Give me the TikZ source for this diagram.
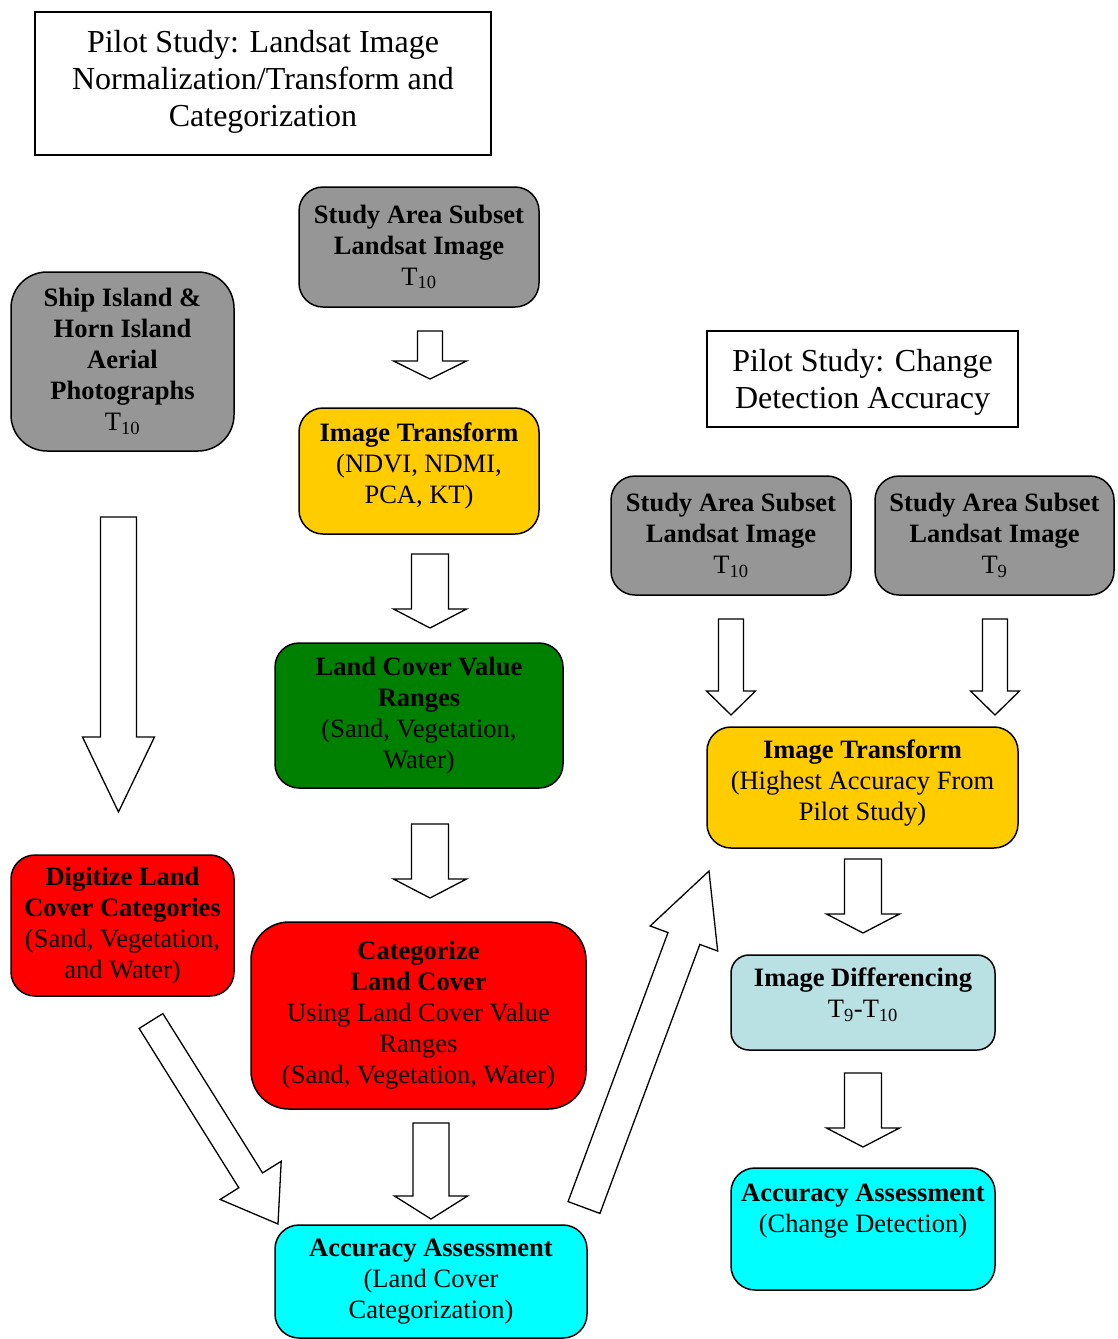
\documentclass[tikz,border=0pt]{standalone}
\usepackage{fontspec}
\setmainfont{Liberation Serif}
\usetikzlibrary{calc}
\definecolor{boxgray}{RGB}{150,150,150}
\definecolor{boxyellow}{RGB}{255,204,0}
\definecolor{boxgreen}{RGB}{0,128,0}
\definecolor{boxred}{RGB}{255,0,0}
\definecolor{boxcyan}{RGB}{0,255,255}
\definecolor{boxblue}{RGB}{185,224,227}
\newcommand{\boxfont}{\fontsize{26.5}{31}\selectfont}
\newcommand{\titlefont}{\fontsize{32}{37}\selectfont}

\begin{document}
\begin{tikzpicture}[x=1pt,y=-1pt,
	stepbox/.style={draw,line width=1.5pt,rounded corners=24pt,align=center,font=\boxfont,inner sep=2pt},
	titlebox/.style={draw,line width=1.3pt,align=center,font=\titlefont,inner sep=2pt},
	fatarrow/.style n args={3}{draw,fill=white,line width=1.3pt,line join=miter,to path={
		($(\tikztotarget)!#3pt!(\tikztostart)$) coordinate (fa-h)
		($(\tikztostart)!#1pt!90:(\tikztotarget)$) -- ($(fa-h)!#1pt!-90:(\tikztostart)$)
		-- ($(fa-h)!#2pt!-90:(\tikztostart)$) -- (\tikztotarget) -- ($(fa-h)!#2pt!90:(\tikztostart)$)
		-- ($(fa-h)!#1pt!90:(\tikztostart)$) -- ($(\tikztostart)!#1pt!-90:(\tikztotarget)$) -- cycle}}]
		\useasboundingbox (0,0) rectangle (1118,1339);
		
		\node[titlebox,text depth=11pt,minimum width=456pt,minimum height=143pt](pilot1)at(263,83.5){Pilot Study: Landsat Image\\Normalization/Transform and\\Categorization};
		\node[titlebox,text depth=0pt,minimum width=311pt,minimum height=96pt](pilot2)at(862.5,379){Pilot Study: Change\\Detection Accuracy};
		
		\node[stepbox,fill=boxgray,minimum width=240pt,minimum height=120pt](sa1)at(419,247){\textbf{Study Area Subset}\\\textbf{Landsat Image}\\T\textsubscript{10}};
		\node[stepbox,fill=boxgray,rounded corners=36pt,minimum width=223pt,minimum height=179pt](ship)at(122.5,361.5){\textbf{Ship Island \&}\\\textbf{Horn Island}\\\textbf{Aerial}\\\textbf{Photographs}\\T\textsubscript{10}};
		\node[stepbox,fill=boxyellow,text depth=16pt,minimum width=240pt,minimum height=126pt](it1)at(419,471){\textbf{Image Transform}\\(NDVI, NDMI,\\PCA, KT)};
		\node[stepbox,fill=boxgreen,minimum width=288pt,minimum height=145pt](lcv)at(419,715.5){\textbf{Land Cover Value}\\\textbf{Ranges}\\(Sand, Vegetation,\\Water)};
		\node[stepbox,fill=boxred,minimum width=223pt,minimum height=141pt](dig)at(122.5,925.5){\textbf{Digitize Land}\\\textbf{Cover Categories}\\(Sand, Vegetation,\\and Water)};
		\node[stepbox,fill=boxred,rounded corners=38pt,minimum width=335pt,minimum height=187pt](cat)at(418.5,1015.5){\textbf{Categorize}\\\textbf{Land Cover}\\Using Land Cover Value\\Ranges\\(Sand, Vegetation, Water)};
		\node[stepbox,fill=boxcyan,minimum width=312pt,minimum height=113pt](acc1)at(431,1281.5){\textbf{Accuracy Assessment}\\(Land Cover\\Categorization)};
		
		\node[stepbox,fill=boxgray,minimum width=240pt,minimum height=119pt](sa2)at(731,535.5){\textbf{Study Area Subset}\\\textbf{Landsat Image}\\T\textsubscript{10}};
		\node[stepbox,fill=boxgray,minimum width=239pt,minimum height=119pt](sa3)at(994.5,535.5){\textbf{Study Area Subset}\\\textbf{Landsat Image}\\T\textsubscript{9}};
		\node[stepbox,fill=boxyellow,text depth=14pt,minimum width=311pt,minimum height=121pt](it2)at(862.5,787.5){\textbf{Image Transform}\\(Highest Accuracy From\\Pilot Study)};
		\node[stepbox,fill=boxblue,rounded corners=18pt,text depth=19pt,minimum width=264pt,minimum height=95pt](diff)at(863,1002.5){\textbf{Image Differencing}\\T\textsubscript{9}-T\textsubscript{10}};
		\node[stepbox,fill=boxcyan,text depth=42pt,minimum width=264pt,minimum height=122pt](acc2)at(863,1229){\textbf{Accuracy Assessment}\\(Change Detection)};
		
		\coordinate (a0s)at(118.5,517);
		\coordinate (a0e)at(118.5,812);
		\coordinate (a1s)at(430,331);
		\coordinate (a1e)at(430,379);
		\coordinate (a2s)at(430,554);
		\coordinate (a2e)at(430,628);
		\coordinate (a3s)at(430,824);
		\coordinate (a3e)at(430,898);
		\coordinate (a4s)at(431,1123);
		\coordinate (a4e)at(431,1219);
		\coordinate (d1s)at(151,1021);
		\coordinate (d1e)at(278,1224);
		\coordinate (d2s)at(584,1207.5);
		\coordinate (d2e)at(709,871);
		\coordinate (b1s)at(731,619);
		\coordinate (b1e)at(731,715);
		\coordinate (b2s)at(995,619);
		\coordinate (b2e)at(995,715);
		\coordinate (b3s)at(863,859);
		\coordinate (b3e)at(863,933);
		\coordinate (b4s)at(863,1073);
		\coordinate (b4e)at(863,1147);
		
		\draw[fatarrow={18}{36}{75}](a0s)to(a0e);
		\draw[fatarrow={12.5}{36.5}{18}](a1s)to(a1e);
		\draw[fatarrow={18.5}{36.5}{19}](a2s)to(a2e);
		\draw[fatarrow={18.5}{36.5}{19}](a3s)to(a3e);
		\draw[fatarrow={18}{36.5}{23}](a4s)to(a4e);
		\draw[fatarrow={14}{36}{51.5}](d1s)to(d1e);
		\draw[fatarrow={17}{36}{72}](d2s)to(d2e);
		\draw[fatarrow={12.5}{24.5}{24}](b1s)to(b1e);
		\draw[fatarrow={12.5}{24.5}{24}](b2s)to(b2e);
		\draw[fatarrow={18.5}{36.5}{19}](b3s)to(b3e);
		\draw[fatarrow={18.5}{36.5}{19}](b4s)to(b4e);
	\end{tikzpicture}
\end{document}
